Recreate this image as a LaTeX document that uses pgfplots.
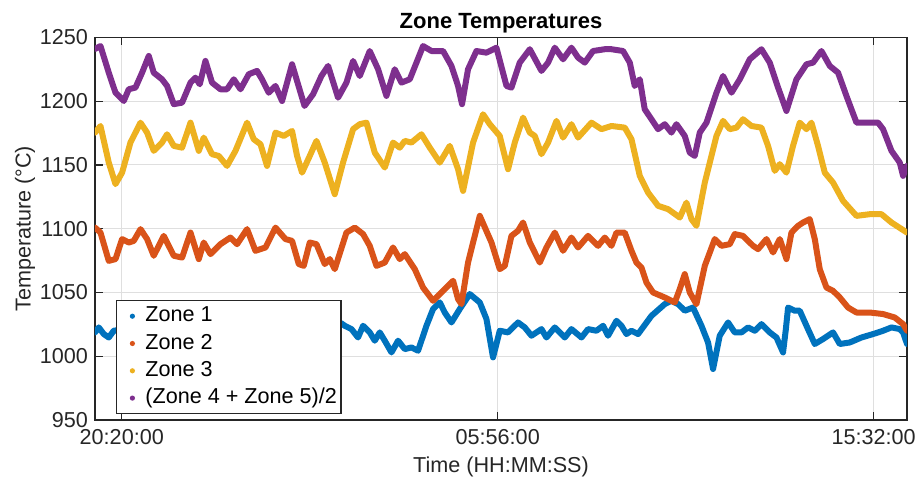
\documentclass[border=0pt]{standalone}
\usepackage{fontspec}
\setmainfont{Liberation Sans}
\usepackage{pgfplots}
\pgfplotsset{compat=1.18}
\definecolor{mblue}{HTML}{0072BD}
\definecolor{morange}{HTML}{D95319}
\definecolor{myellow}{HTML}{EDB120}
\definecolor{mpurple}{HTML}{7E2F8E}
\definecolor{axgray}{HTML}{262626}
\begin{document}
\begin{tikzpicture}
\begin{axis}[name=ax, scale only axis, width=406pt, height=191.25pt,
 xmin=-41, xmax=1203, ymin=950, ymax=1250,
 xtick={0,576,1152}, xticklabels={20:20:00,05:56:00,15:32:00},
 ytick={950,1000,...,1250},
 xtick pos=both, ytick pos=both, xticklabel pos=lower, yticklabel pos=left,
 tick align=inside, major tick length=4pt,
 grid=major, grid style={line width=0.5pt, draw=gray!25},
 axis line style={line width=0.7pt, draw=axgray},
 every tick/.style={line width=0.7pt, draw=axgray},
 tick label style={font=\fontsize{10.8}{13}\selectfont, text=axgray},
 xticklabel style={yshift=-1pt},
 /pgf/number format/assume math mode=true,
 /pgf/number format/1000 sep={},
 xlabel={Time (HH:MM:SS)}, ylabel={Temperature (°C)},
 every axis y label/.style={at={(rel axis cs:0,0.5)}, xshift=-35pt, rotate=90, anchor=center, text=axgray, font=\fontsize{10.8}{13}\selectfont},
 every axis x label/.style={at={(rel axis cs:0.5,0)}, anchor=center, yshift=-23.5pt, text=axgray, font=\fontsize{10.8}{13}\selectfont},
 title={Zone Temperatures},
 every axis title/.style={at={(rel axis cs:0.5,1)}, anchor=base, yshift=4.5pt, inner sep=0pt, font=\bfseries\fontsize{11}{13}\selectfont},
 legend cell align=left,
 legend style={at={(0.0255,0.3137)}, anchor=north west, draw=axgray, line width=0.7pt, fill=white,
   font=\fontsize{10.8}{13}\selectfont, inner xsep=1.5pt, inner ysep=2pt, row sep=2.15pt, column sep=1.5pt,
   nodes={inner sep=0.5pt, text height=8pt, text depth=2.5pt}},
 every axis plot/.append style={line width=3pt, line join=round, line cap=round,
   legend image code/.code={\path[draw=none] (0pt,0pt) -- (11pt,0pt); \fill[##1, draw=none] (6.5pt,0pt) circle (1.3pt);}},
]
\addplot[color=mblue] table {
-41 1018.7
-35.2 1022.6
-27.6 1017.4
-19.9 1014.7
-12.3 1020.0
0 1021
20 1014
40 1024
60 1016
80 1022
100 1013
120 1020
140 1027
160 1018
180 1023
200 1015
220 1021
240 1028
260 1017
280 1022
300 1015
320 1024
336 1026
341.6 1023.9
351.9 1021.3
362.0 1014.7
369.7 1023.9
379.9 1018.7
387.6 1012.2
395.3 1018.7
402.9 1012.2
413.2 1003.0
423.3 1012.2
433.6 1005.6
443.8 1006.9
453.9 1004.3
466.8 1023.9
476.9 1037.0
487.2 1042.2
494.8 1034.3
505.1 1026.5
517.8 1037.0
533.1 1048.8
548.5 1042.2
558.7 1029.2
568.8 999.1
579.1 1020.0
591.8 1018.7
607.1 1026.5
617.4 1022.6
627.7 1016.1
643.0 1021.3
650.6 1014.7
663.4 1022.6
678.7 1014.7
688.9 1021.3
704.3 1014.7
714.4 1021.3
727.2 1020.0
737.4 1023.9
745.0 1016.1
757.9 1027.8
765.5 1023.9
773.2 1017.4
780.9 1020.0
791.0 1017.4
811.5 1031.7
831.9 1040.9
842.1 1043.5
852.3 1040.9
862.5 1035.7
875.2 1038.2
888.1 1023.9
898.2 1010.8
905.9 990.0
916.1 1016.1
928.9 1026.5
939.1 1018.7
949.4 1018.7
959.5 1022.6
969.8 1020.0
980.0 1025.2
992.7 1018.7
1003.0 1014.7
1013.1 1003.0
1017.3 1020.8
1020.8 1038.2
1031.0 1035.7
1038.7 1035.7
1049.0 1023.9
1061.7 1009.6
1074.4 1013.5
1089.7 1018.7
1100.0 1009.6
1115.3 1010.8
1133.2 1014.7
1151.0 1017.4
1166.3 1020.0
1179.2 1022.6
1191.9 1021.3
1197.0 1018.7
1203 1009.6
};
\addlegendentry{Zone 1}
\addplot[color=morange] table {
-41 1100.9
-32.6 1097.0
-19.9 1074.8
-9.6 1076.2
0.5 1091.9
10.7 1089.2
18.4 1090.5
28.7 1099.7
38.8 1091.9
49.0 1078.8
64.3 1094.4
79.7 1078.8
92.4 1077.4
105.3 1097.0
118.0 1076.2
125.6 1089.2
135.9 1080.1
151.2 1087.9
166.5 1093.1
176.6 1087.9
192.0 1099.7
204.8 1082.7
220.2 1085.3
235.5 1100.9
250.8 1091.9
260.9 1090.5
271.2 1072.3
278.8 1070.9
288.0 1089.2
298.3 1087.9
311.0 1072.3
318.7 1076.2
326.3 1068.3
344.2 1097.0
357.0 1100.9
369.7 1095.8
379.9 1086.6
390.2 1070.9
402.9 1073.5
415.6 1085.3
425.9 1076.2
433.6 1080.1
448.9 1068.3
461.6 1053.9
476.9 1043.5
489.8 1050.0
507.6 1059.2
515.2 1044.8
520.4 1040.9
530.5 1073.5
548.5 1110.1
566.4 1089.2
579.1 1068.3
586.8 1070.9
597.0 1094.4
607.1 1098.4
614.8 1104.9
625.1 1089.2
640.4 1073.5
650.6 1085.3
663.4 1097.0
676.1 1082.7
688.9 1093.1
699.1 1085.3
714.4 1094.4
729.7 1086.6
740.0 1093.1
750.2 1086.6
757.9 1097.0
770.6 1097.0
780.9 1082.7
788.5 1073.5
796.2 1069.6
803.8 1057.8
814.0 1050.0
831.9 1046.1
847.2 1042.2
854.9 1052.7
862.5 1064.4
870.2 1050.0
880.4 1040.9
893.2 1070.9
908.5 1091.9
918.7 1086.6
931.5 1087.9
939.1 1095.8
951.8 1094.4
967.2 1086.6
974.8 1084.0
987.7 1091.9
997.8 1081.4
1008.1 1091.9
1018.3 1076.2
1026.0 1097.0
1036.1 1102.3
1043.8 1104.9
1054.0 1107.5
1061.7 1091.9
1069.3 1068.3
1079.6 1053.9
1089.7 1051.3
1100.0 1046.1
1112.7 1038.2
1125.6 1034.3
1145.9 1034.3
1166.3 1033.1
1184.2 1030.4
1197.0 1025.2
1203 1020.0
};
\addlegendentry{Zone 2}
\addplot[color=myellow] table {
-41 1175.4
-32.6 1180.6
-19.9 1151.9
-9.6 1135.0
0.5 1144.0
13.3 1167.6
28.7 1183.2
38.8 1175.4
49.0 1161.1
61.7 1167.6
69.4 1174.1
79.7 1165.0
92.4 1163.6
105.3 1183.2
118.0 1161.1
125.6 1171.5
138.3 1158.5
148.6 1157.1
161.3 1149.3
174.2 1161.1
192.0 1183.2
202.2 1170.2
212.5 1166.3
222.6 1149.3
235.5 1175.4
248.2 1172.8
260.9 1176.7
268.6 1157.1
276.2 1144.0
288.0 1157.1
298.3 1168.9
311.0 1151.9
326.3 1127.1
339.0 1151.9
354.4 1178.1
364.6 1182.0
374.9 1183.2
387.6 1159.7
402.9 1148.0
415.6 1167.6
425.9 1163.6
433.6 1168.9
443.8 1167.6
459.1 1174.1
471.9 1163.6
487.2 1151.9
502.5 1165.0
515.2 1146.7
522.9 1129.7
538.2 1167.6
553.5 1189.8
563.8 1182.0
579.1 1172.8
591.8 1146.7
602.1 1167.6
614.8 1187.2
625.1 1175.4
632.7 1172.8
643.0 1158.5
653.1 1167.6
666.0 1184.6
676.1 1171.5
688.9 1182.0
699.1 1171.5
719.6 1183.2
734.9 1178.1
750.2 1180.6
770.6 1179.3
780.9 1170.2
793.6 1141.5
806.3 1128.4
821.6 1118.0
836.9 1115.4
854.9 1108.8
865.1 1120.5
872.8 1107.5
880.4 1102.3
893.2 1136.2
911.1 1172.8
921.2 1184.6
931.5 1178.1
941.7 1179.3
951.8 1185.9
964.7 1180.6
980.0 1179.3
990.1 1165.0
1000.4 1145.4
1008.1 1150.6
1018.3 1144.0
1028.4 1165.0
1038.7 1183.2
1049.0 1178.1
1056.6 1183.2
1066.7 1165.0
1077.0 1144.0
1089.7 1136.2
1105.0 1121.9
1125.6 1110.1
1145.9 1111.4
1163.9 1111.4
1179.2 1104.9
1203 1097.0
};
\addlegendentry{Zone 3}
\addplot[color=mpurple] table {
-41 1241
-32.6 1243.3
-19.9 1222.4
-9.6 1206.7
3.1 1200.2
10.7 1209.4
21.0 1210.7
31.1 1222.4
41.4 1235.5
49.0 1222.4
61.7 1217.2
69.4 1212.0
79.7 1197.7
92.4 1198.9
105.3 1214.6
112.9 1218.5
119.5 1213.3
128.2 1231.6
138.3 1214.6
151.2 1209.4
161.3 1209.4
171.6 1217.2
181.9 1209.4
194.6 1221.2
207.3 1223.8
214.9 1217.2
225.2 1206.7
235.5 1212.0
245.6 1200.2
260.9 1229.0
280 1196.3
293.1 1205.5
305.9 1219.8
316.1 1227.7
331.4 1202.8
344.2 1214.6
354.4 1231.6
364.6 1219.8
379.9 1239.4
392.7 1225.1
405.5 1204.2
418.2 1225.1
428.5 1214.6
441.2 1217.2
451.5 1230.3
461.6 1243.3
474.5 1239.4
492.2 1239.4
505.1 1227.7
515.2 1212.0
521.3 1197.7
530.5 1225.1
543.4 1239.4
558.7 1238.1
574.0 1242.0
589.4 1212.0
597.0 1210.7
609.7 1230.3
625.1 1240.8
643.0 1223.8
653.1 1230.3
663.4 1242.0
676.1 1232.9
688.9 1242.0
699.1 1234.2
709.3 1230.3
722.0 1239.4
740.0 1240.8
750.2 1240.8
768.0 1239.4
778.3 1230.3
785.9 1212.0
793.6 1217.2
801.2 1193.7
811.5 1185.9
821.6 1178.1
831.9 1182.0
842.1 1175.4
849.8 1182.0
862.5 1172.8
870.2 1159.7
877.8 1157.1
885.5 1175.4
895.8 1183.2
911.1 1206.7
921.2 1219.8
934.1 1206.7
946.8 1217.2
962.1 1232.9
980.0 1240.8
992.7 1230.3
1005.5 1210.7
1018.3 1192.4
1033.6 1217.2
1049.0 1229.0
1059.1 1230.3
1071.9 1239.4
1084.7 1227.7
1097.4 1222.4
1110.2 1204.2
1125.6 1183.2
1140.9 1183.2
1158.7 1183.2
1166.3 1178.1
1179.2 1161.1
1191.9 1151.9
1197.0 1141.5
1203 1149.3
};
\addlegendentry{(Zone 4 + Zone 5)/2}
\end{axis}
\pgfresetboundingbox
\path ([shift={(-47.5pt,-30.5pt)}]ax.south west) rectangle ([shift={(6.5pt,18.75pt)}]ax.north east);
\end{tikzpicture}
\end{document}
